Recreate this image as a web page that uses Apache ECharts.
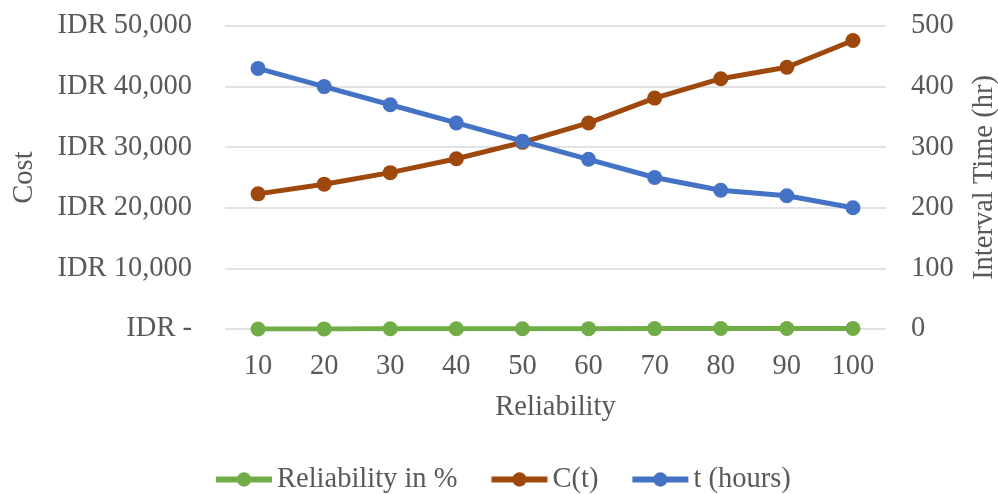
<!DOCTYPE html>
<html>
<head>
<meta charset="utf-8">
<script src="https://cdn.jsdelivr.net/npm/echarts@6/dist/echarts.min.js"></script>
<style>
  html, body { margin: 0; padding: 0; background: #fff; }
  #chart { width: 998px; height: 494px; }
</style>
</head>
<body>
<div id="chart"></div>
<script>
// Reliability levels (x categories)
const categories = ['10', '20', '30', '40', '50', '60', '70', '80', '90', '100'];
// Reliability in % plotted on the cost axis
const reliabilityPct = [10, 20, 30, 40, 50, 60, 70, 80, 90, 100];
// Total cost C(t) in IDR
const costC = [22300, 23900, 25800, 28100, 30800, 34000, 38100, 41300, 43200, 47600];
// Maintenance interval t in hours
const hoursT = [430, 400, 370, 340, 310, 280, 250, 229, 220, 200];

const FONT = '"Liberation Serif", "Times New Roman", serif';
const TXT = '#595959';
const FS = 28.5;

const chart = echarts.init(document.getElementById('chart'));

function idr(v) {
  if (v === 0) return 'IDR -';
  return 'IDR ' + v.toString().replace(/\B(?=(\d{3})+(?!\d))/g, ',');
}

function lineSeries(name, data, color, yIndex) {
  return {
    name: name,
    type: 'line',
    yAxisIndex: yIndex,
    data: data,
    symbol: 'circle',
    symbolSize: 15,
    lineStyle: { width: 5, color: color },
    itemStyle: { color: color },
    animation: false
  };
}

chart.setOption({
  backgroundColor: '#ffffff',
  textStyle: { fontFamily: FONT },
  grid: { left: 225, right: 112, top: 26, bottom: 165, outerBoundsMode: 'none', containLabel: false },
  legend: {
    bottom: -5,
    left: 208,
    itemWidth: 56,
    itemHeight: 18,
    itemGap: 31,
    lineStyle: { width: 6 },
    textStyle: { fontFamily: FONT, fontSize: FS, color: TXT },
    data: ['Reliability in %', 'C(t)', 't (hours)']
  },
  xAxis: {
    type: 'category',
    data: categories,
    boundaryGap: true,
    name: 'Reliability',
    nameLocation: 'middle',
    nameGap: 64,
    nameTextStyle: { fontFamily: FONT, fontSize: FS, color: TXT },
    axisLine: { show: false },
    axisTick: { show: false },
    axisLabel: { fontFamily: FONT, fontSize: FS, color: TXT, margin: 23 }
  },
  yAxis: [
    {
      type: 'value',
      min: 0,
      max: 50000,
      interval: 10000,
      name: 'Cost',
      nameLocation: 'middle',
      nameGap: 186,
      nameTextStyle: { fontFamily: FONT, fontSize: FS, color: TXT },
      axisLine: { show: false },
      axisTick: { show: false },
      splitLine: { lineStyle: { color: '#d9d9d9', width: 1.5 } },
      axisLabel: { fontFamily: FONT, fontSize: FS, color: TXT, margin: 33, formatter: idr }
    },
    {
      type: 'value',
      min: 0,
      max: 500,
      interval: 100,
      position: 'right',
      name: 'Interval Time (hr)',
      nameLocation: 'middle',
      nameGap: 84,
      nameTextStyle: { fontFamily: FONT, fontSize: FS, color: TXT },
      axisLine: { show: false },
      axisTick: { show: false },
      splitLine: { show: false },
      axisLabel: { fontFamily: FONT, fontSize: FS, color: TXT, margin: 25 }
    }
  ],
  series: [
    lineSeries('Reliability in %', reliabilityPct, '#70AD47', 0),
    lineSeries('C(t)', costC, '#9E480E', 0),
    lineSeries('t (hours)', hoursT, '#4472C4', 1)
  ]
});
</script>
</body>
</html>
